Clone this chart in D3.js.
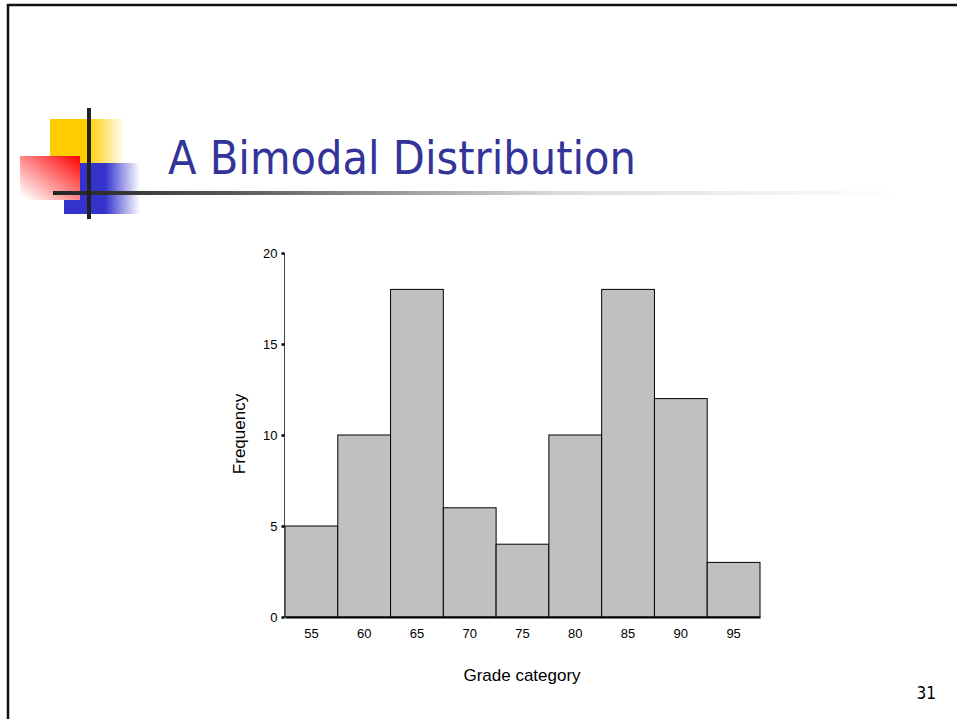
<!DOCTYPE html>
<html><head><meta charset="utf-8">
<script src="https://cdn.jsdelivr.net/npm/d3@7"></script>
<style>html,body{margin:0;padding:0;background:#fff;overflow:hidden}</style>
</head><body>
<script>
const categories = ["55","60","65","70","75","80","85","90","95"];
const frequency = [5,10,18,6,4,10,18,12,3];
const yTicks = [0,5,10,15,20];
const title = "A Bimodal Distribution";
const xTitle = "Grade category";
const yTitle = "Frequency";
const pageNumber = "31";

const W=957,H=719;
const svg=d3.select("body").append("svg").attr("width",W).attr("height",H);
const defs=svg.append("defs");

// slide frame
svg.append("path").attr("d",`M8,${H} L8,5 L${W},5`).attr("fill","none").attr("stroke","#111").attr("stroke-width",2.5);

// logo gradients
function lg(id,x1,y1,x2,y2,stops){
  const g=defs.append("linearGradient").attr("id",id).attr("x1",x1).attr("y1",y1).attr("x2",x2).attr("y2",y2);
  stops.forEach(s=>g.append("stop").attr("offset",s[0]).attr("stop-color",s[1]).attr("stop-opacity",s[2]));
}
lg("gy",0,0,1,0,[[0,"#FFCC00",1],[0.5,"#FFCC00",1],[1,"#FFCC00",0]]);
lg("gb",0,0,1,0,[[0,"#3333CC",1],[0.54,"#3333CC",1],[1,"#3333CC",0]]);
lg("gr",1,0,0,1,[[0,"#FF0000",1],[0.95,"#FF0000",0]]);
lg("gl",0,0,1,0,[[0,"#222",1],[0.2,"#555",1],[0.6,"#dcdcdc",1],[1,"#fff",1]]);

const logo=svg.append("g");
logo.append("rect").attr("x",50).attr("y",119).attr("width",75).attr("height",45).attr("fill","url(#gy)");
logo.append("rect").attr("x",64).attr("y",163).attr("width",76).attr("height",51).attr("fill","url(#gb)");
logo.append("rect").attr("x",20).attr("y",156).attr("width",60).attr("height",44).attr("fill","#fff");
logo.append("rect").attr("x",20).attr("y",156).attr("width",60).attr("height",44).attr("fill","url(#gr)");
logo.append("rect").attr("x",53).attr("y",191).attr("width",850).attr("height",4).attr("fill","url(#gl)");
logo.append("rect").attr("x",87).attr("y",108).attr("width",4).attr("height",111).attr("fill","#222");

// title
svg.append("text").attr("x",168).attr("y",174).text(title)
  .attr("font-family","'DejaVu Sans Condensed','DejaVu Sans',sans-serif")
  .attr("font-size",47).attr("fill","#333399")
  .attr("textLength",468).attr("lengthAdjust","spacingAndGlyphs");

// chart
const x=d3.scaleBand().domain(categories).range([285,760]).padding(0);
const y=d3.scaleLinear().domain([0,20]).range([617,253]);

const g=svg.append("g");
g.selectAll("rect.bar").data(frequency).enter().append("rect").attr("class","bar")
  .attr("x",(d,i)=>x(categories[i])).attr("y",d=>y(d))
  .attr("width",x.bandwidth()).attr("height",d=>y(0)-y(d))
  .attr("fill","#C0C0C0").attr("stroke","#000").attr("stroke-width",1);

// y axis
const ya=g.append("g").attr("transform","translate(284.5,0)")
  .call(d3.axisLeft(y).tickValues(yTicks).tickSize(3).tickPadding(4));
ya.attr("font-size",13);
ya.select(".domain").attr("stroke","#444").attr("stroke-width",1).attr("d",`M0,${y(0)}V${y(20)}`);
ya.selectAll(".tick line").attr("stroke","#000").attr("stroke-width",2.5);
ya.selectAll(".tick text").attr("font-family","'Liberation Sans',Arial,sans-serif").attr("font-size",13).attr("fill","#000");

// x axis
const xa=g.append("g").attr("transform",`translate(0,${y(0)})`)
  .call(d3.axisBottom(x).tickSize(0).tickPadding(12));
xa.attr("font-size",13);
xa.select(".domain").attr("stroke","#000").attr("stroke-width",2);
xa.selectAll(".tick text").attr("font-family","'Liberation Sans',Arial,sans-serif").attr("font-size",13).attr("fill","#000");

// axis titles
svg.append("text").attr("x",522).attr("y",681).attr("text-anchor","middle").text(xTitle)
  .attr("font-family","'Liberation Sans',Arial,sans-serif").attr("font-size",17).attr("fill","#000");
svg.append("text").attr("transform","translate(245,434) rotate(-90)").attr("text-anchor","middle").text(yTitle)
  .attr("font-family","'Liberation Sans',Arial,sans-serif").attr("font-size",17).attr("fill","#000");

// page number
svg.append("text").attr("x",936).attr("y",699).attr("text-anchor","end").text(pageNumber)
  .attr("font-family","'DejaVu Sans Condensed','DejaVu Sans',sans-serif").attr("font-size",17).attr("fill","#000");
</script>
</body></html>
